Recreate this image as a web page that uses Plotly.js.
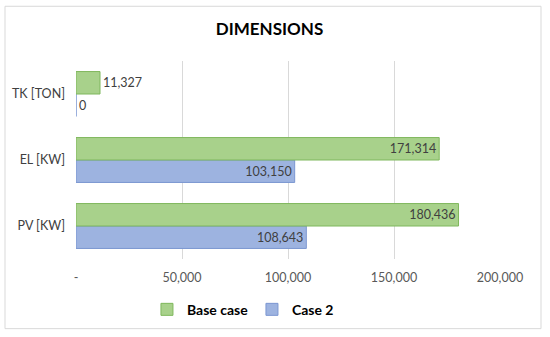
<!DOCTYPE html>
<html>
<head>
<meta charset="utf-8">
<script src="https://cdn.plot.ly/plotly-3.0.1.min.js"></script>
<style>html,body{margin:0;padding:0;background:#fff;}#chart{width:550px;height:337px;}</style>
</head>
<body>
<div id="chart"></div>
<script>
const categories = ["PV [KW]", "EL [KW]", "TK [TON]"];
const baseCase = [180436, 171314, 11327];
const case2 = [108643, 103150, 0];
const tickVals = [0, 50000, 100000, 150000, 200000];
const tickText = ["-", "50,000", "100,000", "150,000", "200,000"];

const fmt = v => v.toLocaleString("en-US");
const pos = arr => arr.map(v => v < 30000 ? "outside" : "inside");

const traces = [
  {
    type: "bar", orientation: "h", name: "<b>Case 2</b>",
    y: categories, x: case2,
    text: case2.map(fmt), textposition: pos(case2), insidetextanchor: "end",
    textfont: {family: "Lato, sans-serif", size: 12.5, color: "#404040"},
    marker: {color: "#9db3e0", line: {color: "#7b96d1", width: 1}},
    cliponaxis: false, hoverinfo: "none"
  },
  {
    type: "bar", orientation: "h", name: "<b>Base case</b>",
    y: categories, x: baseCase,
    text: baseCase.map(fmt), textposition: pos(baseCase), insidetextanchor: "end",
    textfont: {family: "Lato, sans-serif", size: 12.5, color: "#404040"},
    marker: {color: "#a8d18b", line: {color: "#7fb75c", width: 1}},
    cliponaxis: false, hoverinfo: "none"
  }
];

const layout = {
  width: 550, height: 337,
  margin: {l: 76, r: 50, t: 61, b: 77},
  paper_bgcolor: "#fff", plot_bgcolor: "#fff",
  font: {family: "Lato, sans-serif", color: "#404040"},
  title: {text: "<b>DIMENSIONS</b>", font: {size: 17, color: "#000", family: "Lato, sans-serif"},
          x: 0.49, xanchor: "center", y: 0.915, yanchor: "middle"},
  barmode: "group", bargap: 0.32, bargroupgap: 0,
  xaxis: {
    range: [0, 200000], tickvals: tickVals, ticktext: tickText,
    showgrid: true, gridcolor: "#d9d9d9", gridwidth: 1, zeroline: false,
    showline: false, ticks: "outside", ticklen: 7, tickcolor: "rgba(0,0,0,0)",
    tickfont: {size: 12.5, color: "#595959"},
    fixedrange: true
  },
  yaxis: {
    type: "category", showgrid: false, zeroline: false, showline: false,
    ticks: "", ticklabelstandoff: 10, tickfont: {size: 12.5, color: "#404040"}, fixedrange: true
  },
  legend: {
    orientation: "h", traceorder: "reversed",
    x: 0.415, xanchor: "center", y: -0.25, yanchor: "middle",
    font: {size: 14, color: "#000"}, itemwidth: 30, entrywidth: 60
  },
  shapes: [{
    type: "rect", xref: "paper", yref: "paper",
    x0: (5 - 76) / 424, x1: (541 - 76) / 424,
    y0: (260 - 330) / 199, y1: (260 - 6) / 199,
    line: {color: "#d9d9d9", width: 1}, fillcolor: "rgba(0,0,0,0)", layer: "below"
  }],
  showlegend: true
};

Plotly.newPlot("chart", traces, layout, {displayModeBar: false, staticPlot: true});
</script>
</body>
</html>
